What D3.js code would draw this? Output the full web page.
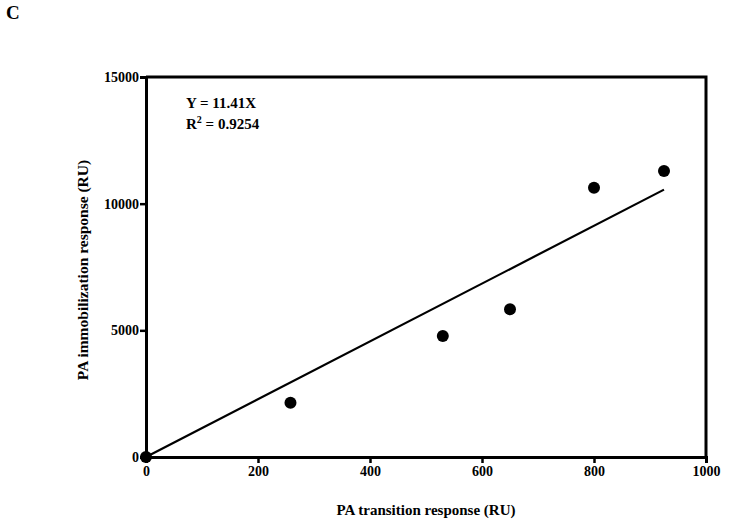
<!DOCTYPE html>
<html>
<head>
<meta charset="utf-8">
<script src="https://cdn.jsdelivr.net/npm/d3@7"></script>
<style>
  body { margin: 0; background: #fff; }
  svg text { font-family: "Liberation Serif", "Times New Roman", serif; font-weight: bold; fill: #000; }
</style>
</head>
<body>
<svg id="chart" width="729" height="525"></svg>
<script>
// ######## data
const transition = [0, 258, 530, 650, 800, 925];
const immobilization = [0, 2140, 4780, 5830, 10630, 11290];
const slope = 11.41;
const rSquared = "0.9254";
const xTicks = [0, 200, 400, 600, 800, 1000];
const yTicks = [0, 5000, 10000, 15000];

const svg = d3.select("#chart");
const margin = { left: 146, right: 23, top: 77, bottom: 68 };
const width = 729 - margin.left - margin.right;
const height = 525 - margin.top - margin.bottom;

const x = d3.scaleLinear().domain([0, 1000]).range([0, width]);
const y = d3.scaleLinear().domain([0, 15000]).range([height, 0]);

const g = svg.append("g").attr("transform", `translate(${margin.left},${margin.top})`);

// panel letter
svg.append("text").attr("x", 6).attr("y", 19).style("font-size", "19px").text("C");

// frame (top and right)
g.append("path")
  .attr("d", `M0,0H${width}V${height}`)
  .attr("fill", "none").attr("stroke", "#000").attr("stroke-width", 3);

// axes
const xAxis = g.append("g").attr("transform", `translate(0,${height})`)
  .call(d3.axisBottom(x).tickValues(xTicks).tickSize(6).tickPadding(3).tickFormat(d3.format("d")));
const yAxis = g.append("g")
  .call(d3.axisLeft(y).tickValues(yTicks).tickSize(6).tickPadding(1).tickFormat(d3.format("d")));

[xAxis, yAxis].forEach(a => {
  a.select(".domain").attr("stroke-width", 3);
  a.selectAll(".tick line").attr("stroke-width", 2.5);
  a.selectAll(".tick text").style("font-size", "14px");
});

// fitted line through origin
const xMax = d3.max(transition);
g.append("line")
  .attr("x1", x(0)).attr("y1", y(0))
  .attr("x2", x(xMax)).attr("y2", y(slope * xMax))
  .attr("stroke", "#000").attr("stroke-width", 2.2);

// points
g.selectAll("circle.pt")
  .data(transition.map((d, i) => [d, immobilization[i]]))
  .join("circle")
  .attr("class", "pt")
  .attr("cx", d => x(d[0])).attr("cy", d => y(d[1]))
  .attr("r", 6).attr("fill", "#000");

// equation
const eq = g.append("text").attr("x", 40).attr("y", 31).style("font-size", "15px");
eq.text(`Y = ${slope}X`);
const r2 = g.append("text").attr("x", 40).attr("y", 52).style("font-size", "15px");
r2.append("tspan").text("R");
r2.append("tspan").attr("dy", -6).style("font-size", "10px").text("2");
r2.append("tspan").attr("dy", 6).text(` = ${rSquared}`);

// axis titles
svg.append("text")
  .attr("x", margin.left + width / 2).attr("y", 515)
  .attr("text-anchor", "middle").style("font-size", "15px")
  .text("PA transition response (RU)");
svg.append("text")
  .attr("transform", `translate(88,${margin.top + height / 2 + 3}) rotate(-90)`)
  .attr("text-anchor", "middle").style("font-size", "15.5px")
  .text("PA immobilization response (RU)");
</script>
</body>
</html>
